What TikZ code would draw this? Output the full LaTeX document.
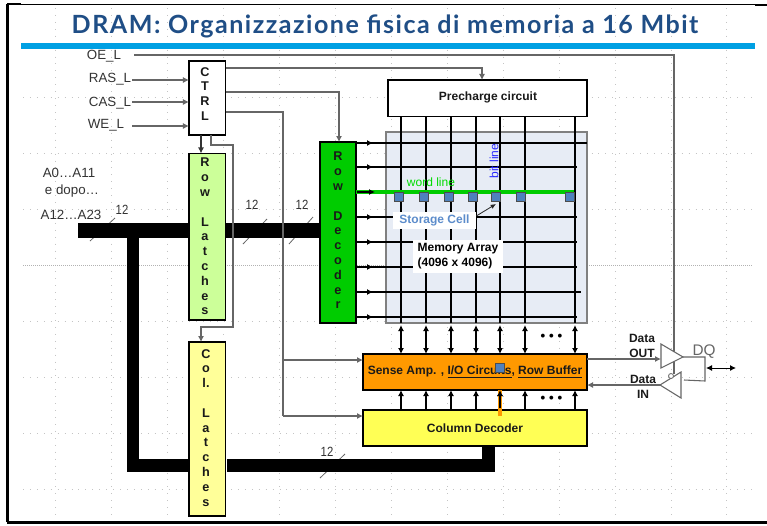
\documentclass[tikz,border=0pt]{standalone}
\usepackage{fontspec}
\setmainfont{Liberation Sans}
\newfontfamily\titlefont[LetterSpace=6]{Lato}
\usetikzlibrary{arrows.meta}
\definecolor{gridc}{HTML}{C4C4C4}
\definecolor{sigc}{HTML}{666666}
\definecolor{titlec}{HTML}{1F4E86}
\definecolor{barc}{HTML}{00A0E3}
\definecolor{arrayc}{HTML}{E7ECF5}
\definecolor{cellc}{HTML}{4F81BD}
\definecolor{greenc}{HTML}{00CC00}
\definecolor{orangec}{HTML}{FF9900}
\definecolor{cdc}{HTML}{FFFF55}
\definecolor{rlc}{HTML}{CCFF99}
\definecolor{clc}{HTML}{FFFF99}
\definecolor{wlc}{HTML}{00DC00}
\definecolor{blc}{HTML}{2828FF}
\definecolor{scc}{HTML}{5C8CCB}
\newcommand{\twelve}{\scalebox{0.85}[1]{12}}
\tikzset{
  x=0.75pt,y=-0.75pt,
  blockbox/.style={draw=black,line width=1.1pt,inner sep=0pt,outer sep=0pt},
  plainlabel/.style={inner sep=0pt,font=\fontsize{10}{12}\selectfont,text=black!80},
  boldlabel/.style={inner sep=0pt,font=\bfseries\fontsize{9}{11.2}\selectfont,text=black!90},
  vlabel/.style={inner sep=0pt,anchor=north,align=center,font=\bfseries\fontsize{9.5}{11.1}\selectfont,text=black!90},
  guide/.style={draw=gridc,line width=0.5pt,dash pattern=on 0.7pt off 4.5pt},
  sig/.style={draw=sigc,line width=0.8pt},
  blackline/.style={draw=black,line width=0.9pt},
  tip/.style={-{Latex[length=4.5pt,width=4.5pt]}},
  bothtip/.style={{Latex[length=4.5pt,width=4.5pt]}-{Latex[length=4.5pt,width=4.5pt]}},
  bus/.style={draw=black,line cap=butt,line join=miter},
  slash/.style={draw=sigc,line width=0.6pt},
  cell/.style={draw=black!70,fill=cellc,line width=0.5pt,minimum size=6.8pt,inner sep=0pt},
  tristate/.style={draw=sigc,fill=white,line width=0.8pt,line join=miter},
  dotsnode/.style={inner sep=0pt,font=\bfseries\fontsize{10}{12}\selectfont},
}
\begin{document}
\begin{tikzpicture}
\useasboundingbox (0,0) rectangle (767,525);
\fill[white] (0,0) rectangle (767,525);
% background guides
\foreach \gx in {55,111,167,223,279,335,391,447,503,559,615,671,726}
  \draw[guide] (\gx,8) -- (\gx,520);
\foreach \gy in {97,153,209,321,377,433,489}
  \draw[guide] (23,\gy) -- (752,\gy);
\draw[black!30,densely dotted,line width=0.5pt] (23,265) -- (752,265);
% frame
\draw[black,line width=0.75pt] (7,4.5) -- (767,4.5);
\draw[black,line width=1.6pt] (7,4) -- (21,4);
\draw[black,line width=1.6pt] (755,5) -- (767,5);
\draw[black,line width=1.6pt] (7.5,4) -- (7.5,522);
\draw[black,line width=2pt] (7,522.5) -- (767,522.5);
% title
\node[inner sep=0pt,text=titlec,font=\titlefont\bfseries\fontsize{18.8}{22}\selectfont] (title) at (385,26) {DRAM: Organizzazione fisica di memoria a 16 Mbit};
\fill[barc] (21,43) rectangle (755,49);
% memory array
\node[draw=black!50,fill=arrayc,line width=1.1pt,minimum width=150.75pt,minimum height=143.25pt,inner sep=0pt,outer sep=0pt] (arr) at (486.5,227.5) {};
% boxes
\node[blockbox,fill=white,minimum width=27.4pt,minimum height=55.5pt] (ctrl) at (207.25,98) {};
\node[blockbox,fill=white,minimum width=149.25pt,minimum height=27.4pt] (pre) at (487.5,98.25) {};
\node[blockbox,fill=greenc,minimum width=27pt,minimum height=135.75pt] (rd) at (338,232.5) {};
\node[blockbox,fill=orangec,minimum width=168pt,minimum height=27pt] (sa) at (475,372) {};
\node[blockbox,fill=cdc,minimum width=168pt,minimum height=27pt] (cd) at (475,428) {};
% bus ticks (their middles are hidden by the buses)
\coordinate (t1a) at (90,241); \coordinate (t1b) at (115,218);
\coordinate (t2a) at (243,244); \coordinate (t2b) at (267,219);
\coordinate (t3a) at (289,244); \coordinate (t3b) at (313,217);
\coordinate (t4a) at (320,478); \coordinate (t4b) at (345,454);
\draw[slash] (t1a) -- (t1b); \draw[slash] (t2a) -- (t2b); \draw[slash] (t3a) -- (t3b); \draw[slash] (t4a) -- (t4b);
% buses (under the latches)
\draw[bus,line width=11.25pt] (78,230.5) -- (rd.west |- 0,230.5);
\draw[bus,line width=9.25pt] (133,230.5) -- (133,465.5) -- (488.5,465.5) -- (cd.south -| 488.5,0);
\draw[white,line width=1.1pt] (226.5,459) -- (226.5,472);
\node[blockbox,fill=rlc,minimum width=27.4pt,minimum height=124.9pt] (rl) at (207.25,236.75) {};
\node[blockbox,fill=clc,minimum width=27.4pt,minimum height=130.5pt] (cl) at (207.25,429) {};
\node[plainlabel] (n1) at (122,210) {\twelve};
\node[plainlabel] (n2) at (252,205) {\twelve};
\node[plainlabel] (n3) at (302,205) {\twelve};
\node[plainlabel] (n4) at (327,452) {\twelve};
% box texts
\node[vlabel] (ctrlt) at (205,67) {C\\T\\R\\L};
\node[vlabel] (rlt) at (205,158) {R\\o\\w\\\mbox{}\\L\\a\\t\\c\\h\\e\\s};
\node[vlabel] (clt) at (206,349) {C\\o\\l.\\\mbox{}\\L\\a\\t\\c\\h\\e\\s};
\node[vlabel] (rdt) at (338,152) {R\\o\\w\\\mbox{}\\D\\e\\c\\o\\d\\e\\r};
\node[boldlabel] (pret) at (488,97) {Precharge circuit};
\node[boldlabel] (sat) at (475,372) {Sense Amp. , \underline{I/O Circuits}, \underline{Row Buffer}};
\node[boldlabel] (cdt) at (475,428) {Column Decoder};
% input labels
\node[plainlabel] (oe) at (104,56) {OE\_L};
\node[plainlabel] (ras) at (110,79) {RAS\_L};
\node[plainlabel] (cas) at (110,103) {CAS\_L};
\node[plainlabel] (we) at (106,125) {WE\_L};
\node[plainlabel] (a0) at (69,173) {A0…A11};
\node[plainlabel] (dopo) at (72,191) {e dopo…};
\node[plainlabel] (a12) at (71,215) {A12…A23};
% control inputs
\draw[sig,tip] (ras.east) ++(1,1) -- (ctrl.west |- 0,80);
\draw[sig,tip] (cas.east) ++(1,-1) -- (ctrl.west |- 0,102);
\draw[sig,tip] (we.east) ++(8,1) -- (ctrl.west |- 0,126);
% control outputs
\draw[sig,tip] (ctrl.east |- 0,68) -- (482,68) -- (pre.north -| 482,0);
\draw[sig,tip] (ctrl.east |- 0,92) -- (339,92) -- (rd.north -| 339,0);
\draw[sig] (ctrl.east |- 0,112) -- (283,112) -- (283,416);
\draw[sig,tip] (283,360) -- (sa.west |- 0,360);
\draw[sig,tip] (283,416) -- (cd.west |- 0,416);
\draw[blackline,draw=black!80,tip] (ctrl.south -| 201,0) -- (rl.north -| 201,0);
\draw[sig,tip] (ctrl.south -| 211,0) -- (211,145) -- (233,145) -- (233,327) -- (201,327) -- (cl.north -| 201,0);
% word lines
\foreach \wy/\wend in {143/587,167/577,217/577,242/577,267/577,292/581,317/577}{
  \draw[blackline] (rd.east |- 0,\wy) ++(1,0) -- (\wend,\wy);
  \draw[blackline,tip] (rd.east |- 0,\wy) ++(1,0) -- (373,\wy);
}
% bit lines
\foreach \bx in {401,426,451,476,500,525,575}{
  \draw[blackline] (pre.south -| \bx,0) -- (arr.south -| \bx,0);
  \draw[blackline,bothtip] (\bx,325) -- (sa.north -| \bx,0);
  \draw[blackline,tip] (cd.north -| \bx,0) -- (sa.south -| \bx,0);
}
% selected word line
\draw[greenc,line width=2.8pt] (rd.east |- 0,192) -- (574,192);
\draw[blackline,tip] (rd.east |- 0,192) ++(1,0) -- (375,192);
% cells
\foreach \cx in {399,424,449,473,496,521,570}
  \node[cell] at (\cx,197) {};
\node[cell] at (500,368) {};
% orange column link
\draw[orangec,line width=3pt] (500,390) -- (500,416);
\draw[blackline,tip] (500,408) -- (sa.south -| 500,0);
% array labels
\node[inner sep=0pt,text=wlc,font=\fontsize{9}{11}\selectfont] (wl) at (431,182) {word line};
\node[inner sep=0pt,text=blc,font=\fontsize{9}{11}\selectfont,rotate=90] (bl) at (494,161) {bit line};
\node[fill=white,inner sep=0pt,minimum width=62.25pt,minimum height=12.75pt,text=scc,font=\bfseries\fontsize{9}{11}\selectfont] (sc) at (434.5,220) {Storage Cell};
\coordinate (sctarget) at (496,204);
\draw[draw=black!85,line width=0.6pt,-{Latex[length=4pt,width=3.5pt]}] (sc.east |- 0,216) -- (sctarget);
\node[fill=white,inner sep=0pt,minimum width=67.5pt,minimum height=24.75pt,align=left,text=black,font=\bfseries\fontsize{9}{11.2}\selectfont] (ma) at (458,256.5) {Memory Array\\(4096 x 4096)};
\node[dotsnode] (d1) at (551.5,337) {•\hspace{2.9pt}•\hspace{2.9pt}•};
\node[dotsnode] (d2) at (551.5,399) {•\hspace{2.9pt}•\hspace{2.9pt}•};
% output stage
\coordinate (outl1) at (661,344); \coordinate (outl2) at (661,368); \coordinate (outtip) at (683,357);
\coordinate (inr1) at (681,372); \coordinate (inr2) at (681,398); \coordinate (intip) at (660,385);
\draw[sig,draw=sigc] (oe.east) ++(13,-1) -- (674,55) -- (674,374);
\draw[tristate] (outl1) -- (outl2) -- (outtip) -- cycle;
\draw[tristate] (inr1) -- (inr2) -- (intip) -- cycle;
\draw[sig,line width=0.6pt,fill=white] (671,376) circle (2.5);
\draw[sig,tip] (sa.east |- 0,359) -- (outl1 |- 0,359);
\draw[sig,tip] (intip) -- (sa.east |- intip);
\draw[sig] (outtip) -- (705,357) -- (705,381) -- (684,380);
\draw[blackline,line width=0.7pt,bothtip] (706,368) -- (736,368);
\node[inner sep=0pt,text=sigc,font=\fontsize{11.5}{13}\selectfont] (dq) at (704,352) {DQ};
\node[boldlabel,align=center] (dout) at (642,345.5) {Data\\OUT};
\node[boldlabel,align=center] (din) at (643,387) {Data\\IN};
\end{tikzpicture}
\end{document}
